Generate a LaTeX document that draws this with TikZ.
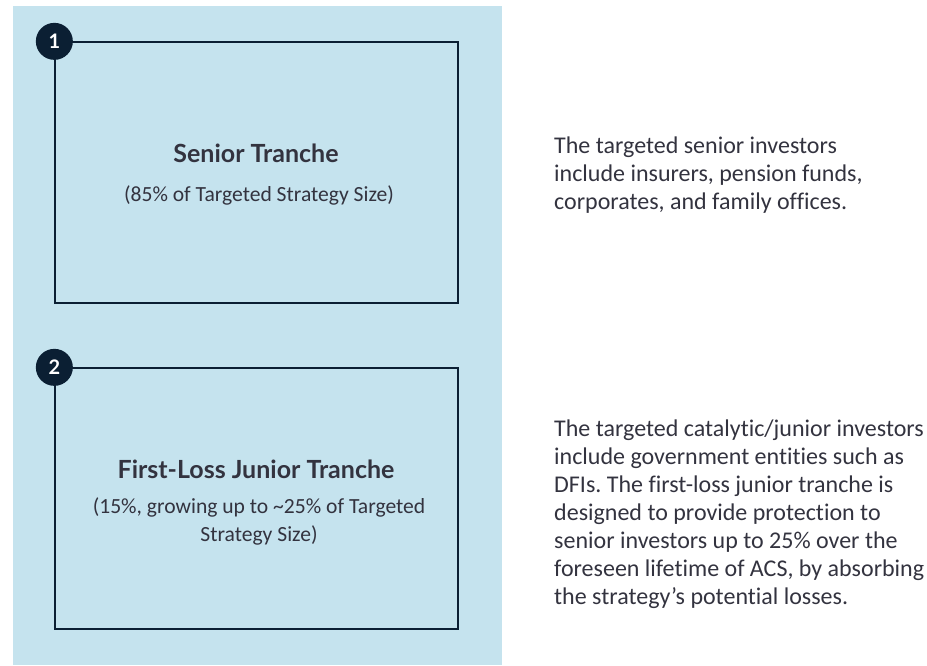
\documentclass[tikz,border=0pt]{standalone}
\usepackage{fontspec}
\setmainfont{Carlito}[Ligatures=NoCommon]
\newfontfamily\titlefont{Lato}
\usetikzlibrary{positioning}
\frenchspacing

\definecolor{panelblue}{HTML}{C5E3EE}
\definecolor{navy}{HTML}{0B1F33}
\definecolor{ink}{HTML}{33333F}

\tikzset{
  tranche/.style = {draw=navy, line width=1.3pt, minimum width=403pt, minimum height=261pt, inner sep=0pt},
  badge/.style = {circle, fill=navy, minimum size=37pt, inner sep=0pt, text=white, font=\titlefont\bfseries\fontsize{20}{20}\selectfont},
  title/.style = {text=ink, font=\titlefont\bfseries\fontsize{25}{28}\selectfont},
  share/.style = {text=ink, align=center, font=\fontsize{21.6}{28}\selectfont},
  note/.style = {text=ink, align=left, anchor=west, inner sep=0pt, font=\fontsize{24}{28}\selectfont}
}

\begin{document}
\begin{tikzpicture} [x=1pt, y=-1pt]
\useasboundingbox (0,0) rectangle (927,665);
\fill[panelblue] (13,6) rectangle (502,665);

\node[tranche] (sen) at (256.5,172.5) {};
\node[tranche] (jun) at (256.5,498.5) {};
\node[badge] (b1) at (sen.north west) {1};
\node[badge] (b2) at (jun.north west) {2};

\node[title] (t1) at (256,153) {Senior Tranche};
\node[share] (s1) at (259,195) {(85\% of Targeted Strategy Size)};
\node[title] (t2) at (256,469) {First-Loss Junior Tranche};
\node[share] (s2) at (259,521) {(15\%, growing up to \textasciitilde25\% of Targeted\\Strategy Size)};

\node[note] (n1) at (554,175) {The targeted senior investors\\include insurers, pension funds,\\corporates, and family offices.};
\node[note] (n2) at (554,514) {The targeted catalytic/junior investors\\include government entities such as\\DFIs. The first-loss junior tranche is\\designed to provide protection to\\senior investors up to 25\% over the\\foreseen lifetime of ACS, by absorbing\\the strategy’s potential losses.};
\end{tikzpicture}
\end{document}
